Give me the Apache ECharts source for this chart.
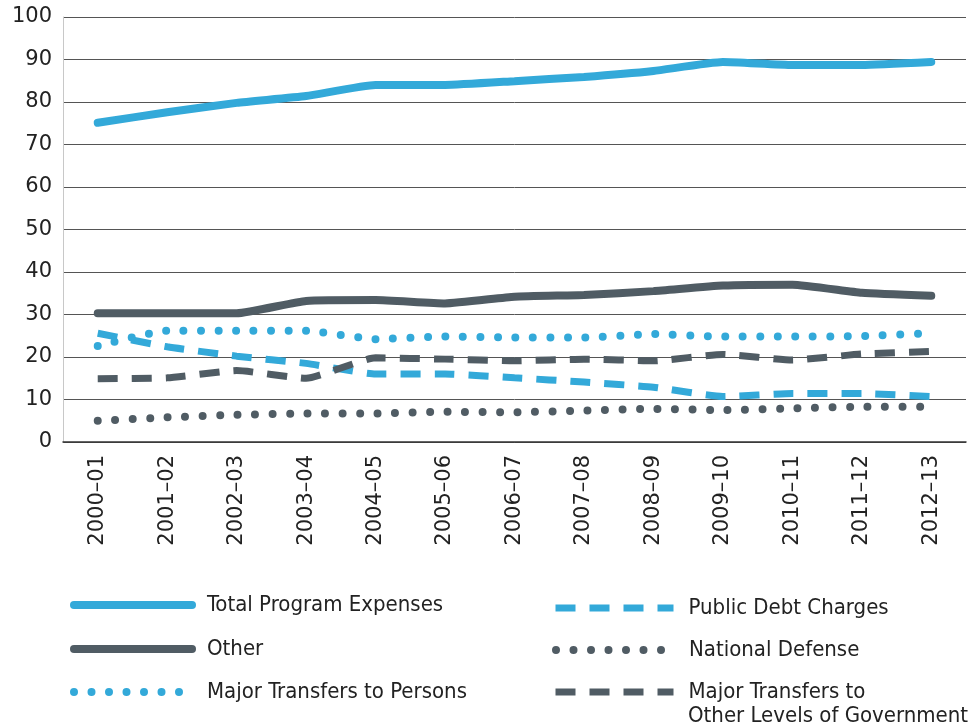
<!DOCTYPE html>
<html>
<head>
<meta charset="utf-8">
<script src="https://cdn.jsdelivr.net/npm/echarts@6/dist/echarts.min.js"></script>
<style>
  html, body { margin: 0; padding: 0; background: #fff; }
  #main { width: 971px; height: 727px; }
</style>
</head>
<body>
<div id="main"></div>
<script>
var years = ['2000–01', '2001–02', '2002–03', '2003–04', '2004–05', '2005–06', '2006–07',
             '2007–08', '2008–09', '2009–10', '2010–11', '2011–12', '2012–13'];
var totalProgram = [75.1, 77.6, 79.8, 81.4, 84.0, 84.0, 84.9, 85.9, 87.3, 89.4, 88.7, 88.7, 89.4];
var other = [30.3, 30.3, 30.3, 33.2, 33.4, 32.6, 34.2, 34.6, 35.5, 36.8, 37.0, 35.1, 34.4];
var transfersPersons = [22.6, 26.2, 26.2, 26.2, 24.2, 24.8, 24.6, 24.6, 25.4, 24.8, 24.8, 24.9, 25.6];
var publicDebt = [25.6, 22.4, 20.2, 18.5, 16.0, 16.0, 15.1, 14.1, 12.9, 10.7, 11.4, 11.4, 10.7];
var nationalDefense = [5.0, 5.8, 6.4, 6.7, 6.7, 7.1, 7.0, 7.4, 7.8, 7.5, 7.9, 8.3, 8.3];
var transfersGov = [14.9, 15.1, 16.8, 15.0, 19.8, 19.5, 19.1, 19.5, 19.1, 20.6, 19.3, 20.7, 21.3];

var BLUE = '#33a9d9';
var DARK = '#505c64';
var labelFont = 'DejaVu Sans';
var legendFont = '"DejaVu Sans Condensed", "Liberation Sans Narrow", "DejaVu Sans", sans-serif';

var names = ['Total Program Expenses', 'Other', 'Major Transfers to Persons',
             'Public Debt Charges', 'National Defense', 'Major Transfers to Other Levels of Government'];

// line styles: [type, width, cap]
var styles = [
    ['solid', 8, 'round'],
    ['solid', 8, 'round'],
    [[0, 17.5], 8, 'round'],
    [[20, 14], 7, 'butt'],
    [[0, 17.5], 8, 'round'],
    [[20, 14], 7, 'butt']
];
var colors = [BLUE, DARK, BLUE, BLUE, DARK, DARK];

function mkSeries(i, data) {
    return {
        name: names[i], type: 'line', data: data, smooth: 0.15,
        symbol: 'none', showSymbol: false,
        lineStyle: {color: colors[i], width: styles[i][1], type: styles[i][0], cap: styles[i][2]},
        itemStyle: {color: colors[i]},
        z: 2
    };
}

function mkLegend(i, left, top) {
    return {
        data: [names[i]], left: left, top: top, orient: 'horizontal',
        padding: 0,
        itemWidth: 118, itemHeight: 10, itemGap: 18,
        selectedMode: false,
        itemStyle: {opacity: 0},
        lineStyle: {width: styles[i][1], type: styles[i][0], cap: styles[i][2], color: colors[i]},
        formatter: function (n) {
            return n === names[5] ? 'Major Transfers to' : n;
        },
        textStyle: {fontFamily: legendFont, fontSize: 22, color: '#222', padding: [0, 0, 0, 10]}
    };
}

var myChart = echarts.init(document.getElementById('main'));
var option = {
    backgroundColor: '#fff',
    animation: false,
    grid: {left: 63, right: 5, top: 17, bottom: 285, containLabel: false},
    legend: [
        mkLegend(0, 70, 594),
        mkLegend(1, 70, 638),
        mkLegend(2, 70, 681),
        mkLegend(3, 552, 597),
        mkLegend(4, 552, 639),
        mkLegend(5, 552, 681)
    ],
    graphic: [{
        type: 'text', left: 688, top: 705,
        style: {text: 'Other Levels of Government', fontFamily: legendFont, fontSize: 22, fill: '#222'}
    }],
    xAxis: {
        type: 'category',
        data: years,
        boundaryGap: true,
        axisLine: {lineStyle: {color: '#333', width: 1.5}},
        axisTick: {inside: true, length: 10, alignWithLabel: true, lineStyle: {color: '#333'}},
        axisLabel: {rotate: 90, fontFamily: labelFont, fontSize: 21, color: '#222', margin: 13, interval: 0}
    },
    yAxis: {
        type: 'value', min: 0, max: 100, interval: 10,
        axisLine: {show: true, lineStyle: {color: '#c8c8c8'}},
        axisTick: {show: false},
        splitLine: {lineStyle: {color: '#555', width: 1}},
        axisLabel: {fontFamily: labelFont, fontSize: 21, color: '#222', margin: 11}
    },
    series: [
        mkSeries(0, totalProgram),
        mkSeries(1, other),
        mkSeries(2, transfersPersons),
        mkSeries(3, publicDebt),
        mkSeries(4, nationalDefense),
        mkSeries(5, transfersGov)
    ]
};
myChart.setOption(option);
</script>
</body>
</html>
